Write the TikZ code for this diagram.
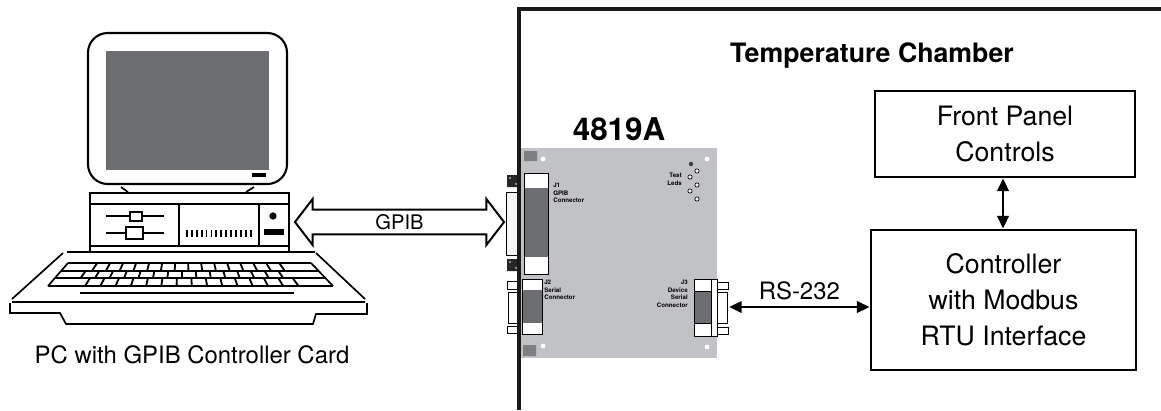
\documentclass[tikz,border=0pt]{standalone}
\usepackage{fontspec}
\setmainfont{TeX Gyre Heros}
\usetikzlibrary{arrows.meta,shapes.arrows,positioning,calc}
\definecolor{screen}{HTML}{6D6E71}
\definecolor{board}{HTML}{C1C2C5}
\definecolor{pad}{HTML}{7E7F82}

\begin{document}
\begin{tikzpicture}[x=0.025cm,y=-0.025cm,
  box/.style={draw,line width=1.9pt,align=center,inner sep=0pt,font=\fontsize{19}{25.5}\selectfont},
  tiny/.style={font=\fontsize{4.4}{5.3}\selectfont\bfseries,inner sep=0pt},
  link/.style={line width=2pt,{Triangle[length=9pt,width=8pt]}-{Triangle[length=9pt,width=8pt]}},
  plug/.style={draw,line width=0.6pt,fill=white},
  led/.style={draw,line width=0.5pt,fill=white}]
\useasboundingbox (0,0) rectangle (1161,410);

% monitor
\draw[line width=1.5pt,rounded corners=14pt] (88,33) rectangle (287,184);
\fill[screen] (106,51) rectangle (269,170);
\fill (252,173) rectangle (266,177);
\draw[line width=1.2pt] (121,187) -- (128,192) (254,187) -- (246,192);
% case
\draw[line width=1.4pt] (90,193) rectangle (289,252);
\draw[line width=1.2pt] (90,204) -- (289,204) (90,246) -- (289,246)
  (179,204) -- (179,246) (259,204) -- (259,246);
\draw[line width=1.2pt] (106,216) -- (164,216) (106,233) -- (164,233);
\draw[line width=1.2pt,fill=white] (130,212) rectangle (142,221) (126,227) rectangle (143,239);
\foreach \i in {0,...,13}
  \fill (186+\i*4.9,230) rectangle ++(1.8,7);
\fill (273,216) circle (2.6pt);
\fill (264,229) rectangle (284,235);
% keyboard
\draw[line width=1.2pt] (67,252) -- (315,252) (63,253) -- (12,299) (316,253) -- (365,299)
  (12,302) -- (365,302);
\draw[line width=1.2pt] (10,303) -- (10,313) -- (60,313) -- (66,324) -- (313,324) -- (316,314)
  -- (367,314) -- (367,303);
\foreach \y in {263,271,278,286}
  \draw[line width=1.2pt] ({68-(\y-263)*20/23},\y) -- ({311+(\y-263)*22/23},\y);
\draw[line width=1.2pt] (68,263) -- (48,286) (311,263) -- (333,286);
\foreach \ya/\yb/\u in {263/271/0.12,271/278/0.095,278/286/0.13}
  \foreach \k in {0,...,14}
    \draw[line width=1.3pt]
      ({68-(\ya-263)*20/23+(\u+\k*0.0535)*(243+(\ya-263)*42/23)},\ya) --
      ({68-(\yb-263)*20/23+(\u+\k*0.0535)*(243+(\yb-263)*42/23)},\yb);
\draw[line width=1.2pt] (80,293) -- (294,293);
\node[font=\fontsize{17}{20}\selectfont] (pclbl) at (192,355) {PC with GPIB Controller Card};

% chamber wall
\node[font=\bfseries\fontsize{19}{23}\selectfont] (tc) at (872,56) {Temperature Chamber};

% card
\node[fill=board,minimum width=4.875cm,minimum height=5.25cm,inner sep=0pt] (card) at (619,253) {};
\node[above=4.5pt of card,inner sep=0pt,font=\bfseries\fontsize{22.3}{26}\selectfont] (model) {4819A};
\fill[pad] (524,151) rectangle (537,161) (523,345) rectangle (536,356);
\foreach \p in {(543,159),(707,159),(543,346),(707,347)}
  \fill[white] \p circle (1.7pt);
% leds
\fill[black!75] (691,164) circle (1.6pt);
\foreach \p in {(697,171),(690,177),(697,185),(690,191),(697,199)}
  \draw[led] \p circle (1.5pt);
\node[tiny,align=right,anchor=north east] (leds) at (682,173) {Test\\Leds};

% J1
\draw[plug,line width=0.5pt,fill=black!4] (506,192) rectangle (518,255);
\fill[black!85] (507,175) rectangle (519,187) (507,259) rectangle (519,271);
\foreach \p in {(510,178),(516,184),(510,262),(516,268)}
  \fill[black!30] \p circle (0.8pt);
\draw[plug] (524,173) rectangle (548,274);
\fill[screen] (524.5,188) rectangle (547.5,257);
\node[tiny,align=left,anchor=north west] (j1lbl) at (553,183) {J1\\GPIB\\Connector};
\coordinate (j1) at (504,222);

% J2
\draw[plug,line width=0.5pt] (507,281) rectangle (517,289) (508,292) rectangle (517,323)
  (507,326) rectangle (517,333);
\draw[plug] (522,279) rectangle (542,334);
\fill[screen] (522.5,290) rectangle (541.5,323);
\node[tiny,align=left,anchor=north west] (j2lbl) at (544,280) {J2\\Serial\\Connector};

% J3
\draw[plug,line width=0.5pt] (717,282) rectangle (728,289) (717,292) rectangle (727,323)
  (717,327) rectangle (728,334);
\draw[plug] (694,279) rectangle (717,336);
\draw[line width=0.6pt] (711,279) -- (711,336);
\draw[line width=0.6pt,fill=screen] (694,291) rectangle (711,323);
\node[tiny,align=right,anchor=north east] (j3lbl) at (688,280) {J3\\Device\\Serial\\Connector};
\coordinate (j3) at (729,307);

\draw[line width=2.4pt,black!90] (519,410) -- (519,9) -- (1161,9);

% GPIB link
\coordinate (pcport) at (295,222);
\node[double arrow,draw,line width=1.4pt,fill=white,minimum height=5.225cm,
  double arrow head extend=0.27cm,double arrow tip angle=105,inner xsep=0pt,inner ysep=2.6pt,
  font=\fontsize{14.3}{16}\selectfont] (gpib) at ($(pcport)!0.5!(j1)$) {GPIB};

% boxes
\node[box,minimum width=6.5cm,minimum height=2.15cm] (fpc) at (1005,134) {Front Panel\\Controls};
\node[box,minimum width=6.625cm,minimum height=3.5cm] (ctrl) at (1003.5,300) {Controller\\with Modbus\\RTU Interface};
\draw[link] (fpc.south -| 1003,0) -- (ctrl.north -| 1003,0);
\draw[link] (j3) -- (j3 -| ctrl.west) node[midway,above=1pt,font=\fontsize{17}{20}\selectfont] {RS-232};
\end{tikzpicture}
\end{document}
